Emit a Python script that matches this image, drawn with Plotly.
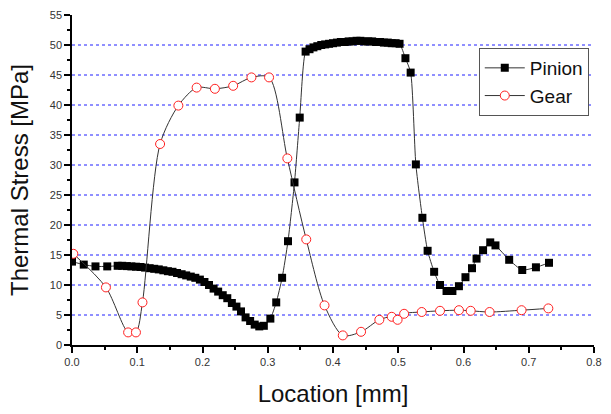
import plotly.graph_objects as go

# Pinion: thermal stress along the contact path
pinion_x = [0.000, 0.018, 0.036, 0.054, 0.070, 0.077, 0.084, 0.091, 0.098, 0.105,
            0.112, 0.119, 0.126, 0.133, 0.140, 0.147, 0.154, 0.161, 0.168, 0.175,
            0.182, 0.189, 0.196, 0.203, 0.210, 0.217, 0.224, 0.231, 0.238, 0.245,
            0.252, 0.259, 0.266, 0.273, 0.280, 0.287, 0.294, 0.304, 0.313, 0.322,
            0.331, 0.341, 0.349, 0.358, 0.364, 0.370, 0.376, 0.382, 0.388, 0.394,
            0.400, 0.406, 0.412, 0.418, 0.424, 0.430, 0.436, 0.442, 0.448, 0.454,
            0.460, 0.466, 0.472, 0.478, 0.484, 0.490, 0.496, 0.502, 0.511, 0.519,
            0.527, 0.537, 0.545, 0.555, 0.564, 0.574, 0.583, 0.593, 0.603, 0.613,
            0.620, 0.630, 0.641, 0.649, 0.670, 0.690, 0.711, 0.731]
pinion_y = [13.9, 13.4, 13.1, 13.1, 13.2, 13.2, 13.15, 13.1, 13.05, 13.0,
            12.9, 12.8, 12.7, 12.6, 12.45, 12.3, 12.2, 12.0, 11.8, 11.6,
            11.4, 11.2, 10.9, 10.5, 10.0, 9.4, 8.9, 8.3, 7.8, 7.0,
            6.4, 5.6, 4.6, 4.0, 3.4, 3.1, 3.2, 4.4, 7.1, 11.2,
            17.3, 27.1, 37.9, 48.9, 49.3, 49.6, 49.8, 50.0, 50.1, 50.2,
            50.3, 50.4, 50.5, 50.5, 50.6, 50.6, 50.7, 50.7, 50.6, 50.6,
            50.6, 50.5, 50.5, 50.4, 50.4, 50.3, 50.3, 50.2, 47.8, 45.4,
            30.1, 21.2, 15.7, 12.2, 10.0, 9.0, 9.0, 9.8, 11.3, 12.8,
            14.4, 15.8, 17.1, 16.6, 14.2, 12.5, 12.95, 13.7]

# Gear: thermal stress along the contact path
gear_x = [0.002, 0.052, 0.086, 0.098, 0.108, 0.135, 0.163, 0.191, 0.219, 0.247,
          0.275, 0.302, 0.330, 0.359, 0.387, 0.415, 0.443, 0.471, 0.490, 0.499,
          0.509, 0.536, 0.564, 0.593, 0.611, 0.640, 0.689, 0.730]
gear_y = [15.2, 9.6, 2.1, 2.1, 7.1, 33.5, 39.9, 42.9, 42.7, 43.2,
          44.6, 44.6, 31.1, 17.6, 6.6, 1.6, 2.2, 4.2, 4.7, 4.2,
          5.2, 5.5, 5.7, 5.8, 5.7, 5.5, 5.8, 6.1]

FONT = "Liberation Sans, Arial, sans-serif"

fig = go.Figure()
fig.add_trace(go.Scatter(
    x=pinion_x, y=pinion_y, name="Pinion", mode="lines+markers",
    line=dict(color="#333333", width=1, shape="spline", smoothing=0.6),
    marker=dict(symbol="square", size=8, color="black"),
))
fig.add_trace(go.Scatter(
    x=gear_x, y=gear_y, name="Gear", mode="lines+markers",
    line=dict(color="#333333", width=1, shape="spline", smoothing=0.8),
    marker=dict(symbol="circle", size=9, color="white",
                line=dict(color="#ff2020", width=1)),
))

fig.update_layout(
    width=611, height=414,
    margin=dict(l=72, r=9, t=15, b=69),
    paper_bgcolor="white", plot_bgcolor="white",
    font=dict(family=FONT, color="#111111"),
    legend=dict(
        x=0.99, y=0.9, xanchor="right", yanchor="top",
        bgcolor="white", bordercolor="#555555", borderwidth=1,
        font=dict(size=19, family=FONT, color="#111111"),
        tracegroupgap=0, itemwidth=40,
    ),
    showlegend=True,
)

fig.update_xaxes(
    range=[0, 0.8], tickvals=[0, 0.1, 0.2, 0.3, 0.4, 0.5, 0.6, 0.7, 0.8],
    ticktext=["0.0", "0.1", "0.2", "0.3", "0.4", "0.5", "0.6", "0.7", "0.8"],
    showline=True, linecolor="black", linewidth=1.5,
    ticks="outside", ticklen=6, tickwidth=1.5, tickcolor="black",
    minor=dict(tickvals=[0.05, 0.15, 0.25, 0.35, 0.45, 0.55, 0.65, 0.75],
               ticks="outside", ticklen=3, tickwidth=1.5, tickcolor="black"),
    showgrid=False, zeroline=False,
    tickfont=dict(size=11, color="#333333"),
    title=dict(text="Location [mm]", font=dict(size=24, color="#111111"), standoff=18),
)
fig.update_yaxes(
    range=[0, 55], tickvals=list(range(0, 60, 5)),
    showline=True, linecolor="black", linewidth=1.5,
    ticks="outside", ticklen=6, tickwidth=1.5, tickcolor="black",
    minor=dict(tickvals=[2.5 + 5 * i for i in range(11)],
               ticks="outside", ticklen=3, tickwidth=1.5, tickcolor="black",
               showgrid=False),
    showgrid=False, zeroline=False,
    tickfont=dict(size=11, color="#333333"),
    title=dict(text="Thermal Stress [MPa]", font=dict(size=24, color="#111111"), standoff=14),
)

# Dotted blue horizontal reference lines at each major stress level
for level in range(5, 55, 5):
    fig.add_hline(y=level, line=dict(color="#2020ff", width=1, dash="dot"), layer="below")

fig.write_html("out.html")
